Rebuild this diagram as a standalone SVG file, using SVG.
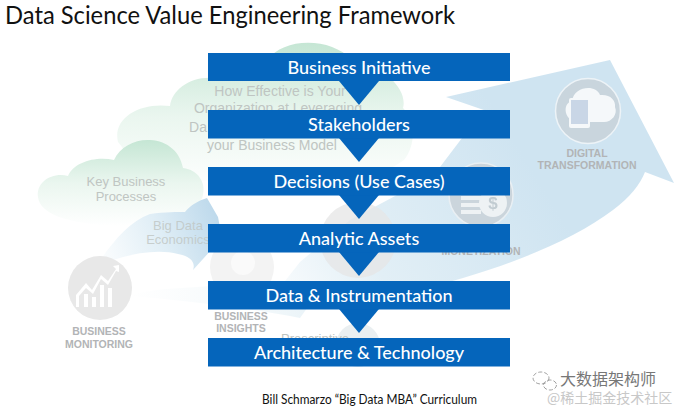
<svg xmlns="http://www.w3.org/2000/svg" width="679" height="409" viewBox="0 0 679 409">
<style>
.t{font-family:Lato,"Open Sans",sans-serif}
.box{fill:#0565bb}
.lbl{font-family:Lato,"Open Sans",sans-serif;font-size:18px;font-weight:500;fill:#fff;text-anchor:middle}
.g{font-family:"Liberation Sans",Arial,sans-serif;fill:#bfc5c2;text-anchor:middle;font-size:14px}
.g13{font-size:13px}
.b{font-family:"Liberation Sans",Arial,sans-serif;fill:#b2b4b6;text-anchor:middle;font-size:10.500px;font-weight:bold}
</style>
<defs>
<linearGradient id="cl" x1="0" y1="0" x2="0" y2="1"><stop offset="0" stop-color="#c5e6d4"/><stop offset=".5" stop-color="#eaf6ef"/><stop offset="1" stop-color="#fff"/></linearGradient>
<linearGradient id="arr" gradientUnits="userSpaceOnUse" x1="260" y1="310" x2="520" y2="150"><stop offset="0" stop-color="#fff"/><stop offset=".4" stop-color="#e2eff6"/><stop offset="1" stop-color="#cfe4f1"/></linearGradient>
<linearGradient id="arr2" gradientUnits="userSpaceOnUse" x1="95" y1="265" x2="215" y2="215"><stop offset="0" stop-color="#fff"/><stop offset=".55" stop-color="#e0eef6"/><stop offset="1" stop-color="#bfdaec"/></linearGradient>
<linearGradient id="band" gradientUnits="userSpaceOnUse" x1="130" y1="0" x2="340" y2="0"><stop offset="0" stop-color="#fff"/><stop offset=".6" stop-color="#f4f9fb"/><stop offset="1" stop-color="#e4f0f6"/></linearGradient>
<filter id="s" x="-5%" y="-5%" width="110%" height="110%"><feGaussianBlur stdDeviation=".6"/></filter>
</defs>
<g id="background" filter="url(#s)">
<path fill="url(#cl)" d="M118 142C112 118 140 102 170 106C172 90 190 76 214 78C232 72 250 70 268 60C282 38 330 36 352 60C385 66 408 90 403 108C416 120 416 145 404 160C380 178 330 190 260 190L140 170Z"/>
<path fill="url(#arr)" d="M610 60L446 97L510 119L462 138L440 167L397 195L350 220L300 262L270 300C330 318 400 296 463 278C530 258 580 235 613 210C630 197 640 185 645 172L674 183Z"/>
<path fill="url(#band)" d="M130 296C150 287 200 288 240 284C270 277 300 282 320 290L300 318C250 308 180 300 130 296Z"/>
<path fill="url(#cl)" d="M38 197C36 182 52 172 68 176C74 162 96 156 114 160C120 146 136 139 150 140C168 141 180 152 183 168C198 170 206 182 203 195C200 215 150 230 100 225C70 222 40 215 38 197Z"/>
<path fill="url(#arr2)" d="M95 268C110 245 128 222 150 214C165 212 178 212 185 212C190 205 200 200 207 198L218 217L222 238L193 270C196 262 190 256 178 254C155 248 120 255 95 268Z"/>
<circle cx="100" cy="288" r="32" fill="#e8e8e8"/>
<path fill="#fff" d="M76 307V295L86 283L92 290L101 275L108 281L116 269L113 266L119 265V272L116 271L108 285L101 279L93 294L86 288L79 296V307H84V294H88V307H92V297H96V307H100V285H104V307H108V288H112V307Z"/>
<circle cx="242" cy="267" r="32" fill="#f3f3f3"/>
<circle cx="243" cy="263" r="12" fill="#fafafa"/>
<circle cx="481" cy="195" r="32" fill="#cbd5dc" stroke="#e9eff3" stroke-width="1.500"/>
<path fill="#eef2f4" d="M461 196h20v4h-20zM461 203h20v4h-20zM461 210h20v4h-20z"/>
<circle cx="493" cy="203" r="14" fill="#eef2f4"/>
<text x="493" y="209" font-family="Liberation Sans,sans-serif" font-size="17" font-weight="bold" fill="#c2ccd2" text-anchor="middle">$</text>
<circle cx="588" cy="111" r="32.500" fill="#c9d5dd" stroke="#edf3f7" stroke-width="1.500"/>
<path fill="#f5f8fa" d="M578 122C565 122 561 104 572 101C574 86 596 84 600 95C610 94 616 100 615 107C618 114 612 122 604 122Z"/>
<rect x="569" y="98" width="21" height="30" rx="2" fill="#f5f8fa"/>
<rect x="571" y="100" width="17" height="24" fill="#c9d6e6"/>
<circle cx="358" cy="240" r="38" fill="#e6e6e6" fill-opacity=".75"/>
<circle cx="358" cy="345" r="22" fill="#eaeff1"/>
</g>
<g id="labels-behind">
<text class="g g13" x="126" y="186">Key Business</text>
<text class="g g13" x="126" y="201">Processes</text>
<text class="g g13" x="178" y="230" fill-opacity=".8">Big Data</text>
<text class="g g13" x="178" y="244" fill-opacity=".8">Economics</text>
<text class="g" x="280" y="96">How Effective is Your</text>
<text class="g" x="278" y="113">Organization at Leveraging</text>
<text class="g" x="198" y="132">Da</text>
<text class="g" x="272" y="150">your Business Model</text>
<text class="b" x="587" y="157">DIGITAL</text>
<text class="b" x="587" y="169">TRANSFORMATION</text>
<text class="b" x="481" y="255">MONETIZATION</text>
<text class="b" x="99" y="335">BUSINESS</text>
<text class="b" x="99" y="348">MONITORING</text>
<text class="b" x="241" y="320">BUSINESS</text>
<text class="b" x="241" y="332">INSIGHTS</text>
<text class="g g13" x="315" y="343">Prescriptive</text>
</g>
<g id="connectors" fill="#0565bb">
<path d="M339 81H379L359 105Z"/>
<path d="M339 138H379L359 162Z"/>
<path d="M339 195H379L359 219Z"/>
<path d="M339 252H379L359 276Z"/>
<path d="M339 309H379L359 333Z"/>
</g>
<g id="n1"><rect class="box" x="208" y="53" width="302" height="28"/><text class="lbl" x="359" y="73.500">Business Initiative</text></g>
<g id="n2"><rect class="box" x="208" y="110" width="302" height="28.500"/><text class="lbl" x="359" y="130.500">Stakeholders</text></g>
<g id="n3"><rect class="box" x="208" y="167" width="302" height="28.500"/><text class="lbl" x="359" y="187.500">Decisions (Use Cases)</text></g>
<g id="n4"><rect class="box" x="208" y="224" width="302" height="28.500"/><text class="lbl" x="359" y="244.500">Analytic Assets</text></g>
<g id="n5"><rect class="box" x="208" y="281" width="302" height="28.500"/><text class="lbl" x="359" y="301.500">Data &amp; Instrumentation</text></g>
<g id="n6"><rect class="box" x="208" y="338" width="302" height="28.500"/><text class="lbl" x="359" y="358.500">Architecture &amp; Technology</text></g>
<text class="t" x="5" y="24" font-size="25" fill="#111" textLength="450" lengthAdjust="spacingAndGlyphs">Data Science Value Engineering Framework</text>
<text class="t" x="262" y="404" font-size="12.500" fill="#111" textLength="215" lengthAdjust="spacingAndGlyphs">Bill Schmarzo “Big Data MBA” Curriculum</text>
<g id="watermark" fill="none" stroke="#8a8a8a" stroke-width=".8" stroke-dasharray="4 2">
<ellipse cx="541" cy="378" rx="8" ry="6"/><ellipse cx="550" cy="385" rx="6.500" ry="5"/>
</g>
<text x="560" y="385" font-family="Noto Sans CJK SC,sans-serif" font-size="16" fill="#777">大数据架构师</text>
<text x="547" y="403" font-family="Noto Sans CJK SC,sans-serif" font-size="14" fill="#c8c8c8">@稀土掘金技术社区</text>
</svg>
